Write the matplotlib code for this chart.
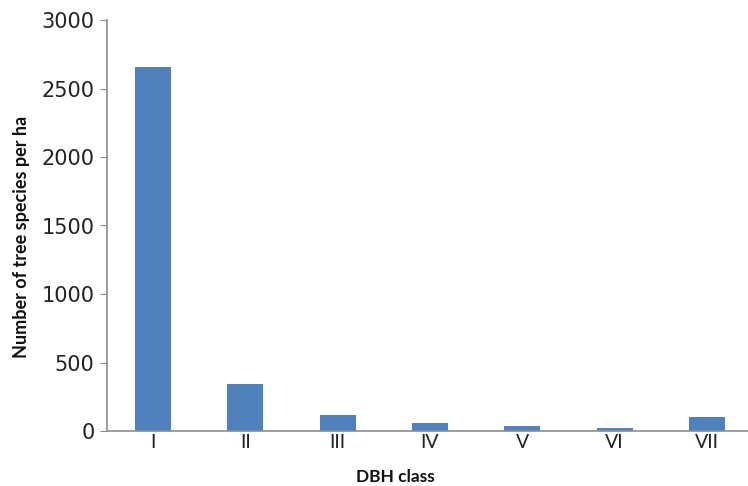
import matplotlib.pyplot as plt

# DBH class distribution
classes = ["I", "II", "III", "IV", "V", "VI", "VII"]
trees_per_ha = [2660, 342, 115, 58, 34, 25, 100]

plt.rcParams['font.family'] = ['DejaVu Sans']

fig = plt.figure(figsize=(7.48, 4.86), dpi=100)
ax = fig.add_axes([107 / 748, 1 - 431 / 486, 646 / 748, 411 / 486])

ax.bar(range(len(classes)), trees_per_ha, width=0.39, color="#4F81BD")
ax.set_xlim(-0.5, len(classes) - 0.5)
ax.set_ylim(0, 3000)
ax.set_yticks(range(0, 3001, 500))
ax.set_xticks(range(len(classes)))
ax.set_xticklabels(classes, family=["Lato", "DejaVu Sans"])

for s in ["top", "right"]:
    ax.spines[s].set_visible(False)
for s in ["left", "bottom"]:
    ax.spines[s].set_color("#8c8c8c")
    ax.spines[s].set_linewidth(1.2)
ax.tick_params(axis="y", length=5, color="#8c8c8c", labelsize=15, pad=4, labelcolor="#222222")
ax.tick_params(axis="x", length=0, labelsize=14, pad=2, labelcolor="#222222")

fig.text(22 / 748, 1 - 237 / 486, "Number of tree species per ha", rotation=90,
         ha="center", va="center", fontsize=13, fontweight="bold",
         family=["Lato", "DejaVu Sans"], color="#111111")
fig.text(395 / 748, 1 - 477 / 486, "DBH class", ha="center", va="center",
         fontsize=12.5, fontweight="bold", family=["Lato", "DejaVu Sans"], color="#111111")

fig.savefig("out.png", dpi=100)
